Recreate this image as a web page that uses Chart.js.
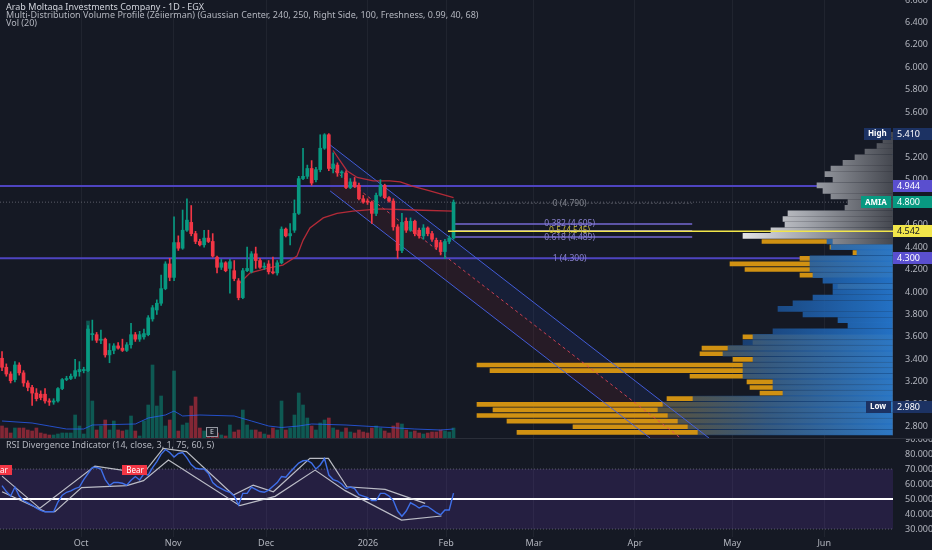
<!DOCTYPE html>
<html>
<head>
<meta charset="utf-8">
<title>AMIA 1D EGX</title>
<script src="https://cdn.jsdelivr.net/npm/chart.js@4.4.1/dist/chart.umd.min.js"></script>
<style>
  html, body { margin: 0; padding: 0; background: #151924; }
  #wrap { position: relative; width: 932px; height: 550px; overflow: hidden; }
  canvas { display: block; }
</style>
</head>
<body>
<div id="wrap">
  <canvas id="priceChart" width="932" height="438"></canvas>
  <canvas id="rsiChart" width="932" height="112"></canvas>
</div>
<script>
// AMIA daily chart: candles + volume + volume profile + RSI

// time axis (bar index) and month labels
const monthLabels = ['Oct', 'Nov', 'Dec', '2026', 'Feb', 'Mar', 'Apr', 'May', 'Jun'];
const monthIndex = [18.4, 39.8, 61.4, 85.1, 103.3, 123.7, 147.2, 169.8, 191.2];
const xMin = -0.47;
const xMax = 207.2;

// price axis
const priceTicks = [2.8, 3.0, 3.2, 3.4, 3.6, 3.8, 4.0, 4.2, 4.4, 4.6, 4.8, 5.0, 5.2, 5.4, 5.6, 5.8, 6.0, 6.2, 6.4, 6.6];
const priceMin = 2.70;
const priceMax = 6.60;

// OHLC
const opens = [3.41, 3.33, 3.27, 3.22, 3.35, 3.28, 3.19, 3.15, 3.10, 3.09,
  3.09, 3.03, 3.02, 3.03, 3.14, 3.22, 3.23, 3.25, 3.29, 3.30,
  3.30, 3.62, 3.62, 3.57, 3.58, 3.44, 3.48, 3.52, 3.50, 3.48,
  3.53, 3.62, 3.58, 3.60, 3.62, 3.76, 3.84, 3.90, 4.03, 4.25,
  4.13, 4.44, 4.39, 4.55, 4.62, 4.52, 4.45, 4.42, 4.48, 4.45,
  4.31, 4.22, 4.26, 4.21, 4.19, 4.10, 3.95, 4.19, 4.18, 4.34,
  4.28, 4.22, 4.25, 4.18, 4.17, 4.26, 4.56, 4.50, 4.55, 4.70,
  5.01, 5.03, 5.10, 5.00, 5.09, 5.28, 5.40, 5.10, 5.13, 5.06,
  5.06, 4.93, 4.98, 4.95, 4.83, 4.81, 4.80, 4.70, 4.86, 4.95,
  4.84, 4.81, 4.58, 4.37, 4.63, 4.55, 4.63, 4.55, 4.50, 4.57,
  4.52, 4.46, 4.44, 4.36, 4.45, 4.48];
const highs = [3.47, 3.36, 3.29, 3.38, 3.37, 3.30, 3.21, 3.17, 3.14, 3.12,
  3.14, 3.05, 3.05, 3.15, 3.23, 3.25, 3.27, 3.40, 3.38, 3.33,
  3.70, 3.75, 3.64, 3.66, 3.59, 3.54, 3.54, 3.55, 3.58, 3.55,
  3.72, 3.64, 3.65, 3.67, 3.79, 3.88, 3.93, 4.15, 4.27, 4.30,
  4.67, 4.50, 4.73, 4.83, 4.77, 4.54, 4.47, 4.55, 4.55, 4.52,
  4.32, 4.29, 4.27, 4.29, 4.28, 4.12, 4.21, 4.40, 4.36, 4.40,
  4.30, 4.26, 4.28, 4.31, 4.28, 4.58, 4.57, 4.61, 4.82, 5.03,
  5.28, 5.13, 5.17, 5.11, 5.40, 5.41, 5.41, 5.24, 5.15, 5.08,
  5.08, 5.01, 5.02, 4.97, 4.86, 4.83, 4.81, 4.88, 5.00, 4.96,
  4.85, 4.83, 4.60, 4.70, 4.66, 4.66, 4.64, 4.57, 4.60, 4.58,
  4.54, 4.48, 4.46, 4.47, 4.50, 4.82];
const lows = [3.30, 3.25, 3.19, 3.20, 3.26, 3.16, 3.12, 2.99, 3.03, 3.04,
  3.01, 2.99, 3.00, 3.02, 3.13, 3.21, 3.22, 3.23, 3.25, 3.28,
  3.29, 3.57, 3.55, 3.54, 3.42, 3.37, 3.45, 3.49, 3.47, 3.47,
  3.50, 3.56, 3.56, 3.58, 3.61, 3.74, 3.80, 3.88, 4.02, 4.10,
  4.10, 4.37, 4.38, 4.54, 4.50, 4.43, 4.41, 4.40, 4.44, 4.31,
  4.17, 4.20, 4.18, 3.99, 4.10, 3.93, 3.94, 4.18, 4.17, 4.21,
  4.21, 4.20, 4.16, 4.16, 4.15, 4.25, 4.49, 4.42, 4.53, 4.69,
  5.00, 5.01, 4.95, 4.98, 5.07, 5.27, 5.08, 5.06, 5.03, 5.02,
  4.92, 4.92, 4.93, 4.82, 4.79, 4.78, 4.61, 4.68, 4.85, 4.83,
  4.80, 4.55, 4.30, 4.35, 4.53, 4.54, 4.50, 4.48, 4.47, 4.50,
  4.45, 4.38, 4.33, 4.30, 4.43, 4.47];
const closes = [3.33, 3.27, 3.21, 3.35, 3.28, 3.19, 3.15, 3.10, 3.05, 3.06,
  3.03, 3.02, 3.03, 3.14, 3.22, 3.23, 3.25, 3.30, 3.31, 3.31,
  3.67, 3.63, 3.57, 3.58, 3.44, 3.48, 3.52, 3.50, 3.48, 3.53,
  3.62, 3.58, 3.62, 3.63, 3.77, 3.86, 3.90, 4.03, 4.25, 4.13,
  4.44, 4.39, 4.55, 4.64, 4.52, 4.45, 4.42, 4.48, 4.45, 4.32,
  4.22, 4.26, 4.19, 4.27, 4.12, 3.95, 4.19, 4.21, 4.34, 4.28,
  4.22, 4.23, 4.18, 4.17, 4.26, 4.56, 4.50, 4.52, 4.70, 5.01,
  5.03, 5.10, 4.97, 5.09, 5.28, 5.40, 5.10, 5.14, 5.06, 5.06,
  4.93, 4.98, 4.94, 4.83, 4.80, 4.80, 4.70, 4.86, 4.95, 4.84,
  4.81, 4.58, 4.37, 4.62, 4.55, 4.63, 4.52, 4.50, 4.57, 4.52,
  4.47, 4.40, 4.36, 4.45, 4.48, 4.80];

// volume (thousands) and Vol(20) average
const volumes = [120, 100, 50, 100, 100, 100, 80, 70, 100, 50,
  40, 30, 30, 40, 50, 50, 50, 230, 120, 40,
  1170, 370, 80, 120, 180, 80, 170, 80, 70, 80,
  220, 70, 20, 170, 330, 730, 320, 420, 120, 180,
  670, 70, 130, 150, 320, 410, 100, 70, 80, 50,
  50, 30, 20, 130, 60, 80, 280, 130, 80, 80,
  60, 40, 30, 100, 80, 370, 80, 100, 230, 450,
  330, 200, 120, 80, 150, 180, 200, 100, 80, 60,
  100, 60, 50, 80, 60, 50, 100, 120, 100, 70,
  50, 120, 150, 140, 80, 60, 70, 50, 40, 50,
  60, 60, 80, 70, 60, 100];
const volAvg = [[0, 170], [7, 150], [11, 120], [15, 90], [19, 90], [21, 130], [31, 140], [34, 200],
  [38, 230], [40, 270], [42, 220], [46, 230], [54, 220], [58, 170], [62, 120], [65, 105],
  [69, 120], [72, 140], [80, 130], [88, 110], [96, 90], [102, 80], [105, 90]];
const volScaleMax = 4380;

// red averages on price
const avgSlow = [[55.3, 4.08], [57.7, 4.17], [61.6, 4.21], [65.3, 4.24], [68.6, 4.32], [70, 4.46],
  [71.6, 4.57], [74.7, 4.66], [77.9, 4.70], [81.6, 4.72], [87.9, 4.74], [95.6, 4.73], [104.9, 4.72]];
const avgFast = [[77, 5.26], [78.6, 5.17], [80.2, 5.08], [82.6, 5.02], [86.3, 4.99], [90.2, 4.99],
  [92.6, 4.98], [95.6, 4.94], [99.5, 4.90], [105, 4.84]];

// descending channel
const channelUpper = [[76.3, 5.31], [164.4, 2.70]];
const channelMid = [[76.3, 5.11], [157.8, 2.70]];
const channelLower = [[76.3, 4.90], [150.7, 2.70]];

// levels
const hLevels = [4.944, 4.300];
const lastPrice = 4.800;
const pocPrice = 4.542;
const pocStart = 103.7;
const fibRatios = ['0', '0.382', '0.5', '0.618', '1'];
const fibPrices = [4.790, 4.605, 4.545, 4.489, 4.300];
const fibStart = 105.3;
const fibEnd = 160.5;
const fibLabelAt = 132;

// right axis tags
const tagValues = [5.410, 4.944, 4.800, 4.542, 4.300, 2.980];
const tagNames = ['High', '', 'AMIA', '', '', 'Low'];

// volume profile (bins top -> bottom)
const profilePrices = [5.40, 5.35, 5.30, 5.25, 5.20, 5.15, 5.10, 5.05, 5.00, 4.95,
  4.90, 4.85, 4.80, 4.75, 4.70, 4.65, 4.60, 4.55, 4.50, 4.45,
  4.40, 4.35, 4.30, 4.25, 4.20, 4.15, 4.10, 4.05, 4.00, 3.95,
  3.90, 3.85, 3.80, 3.75, 3.70, 3.65, 3.60, 3.55, 3.50, 3.45,
  3.40, 3.35, 3.30, 3.25, 3.20, 3.15, 3.10, 3.05, 3.00, 2.95,
  2.90, 2.85, 2.80, 2.75];
const profileUpper = [6, 10, 16, 28, 38, 50, 62, 68, 60, 76,
  70, 62, 45, 48, 105, 110, 108, 122, 150, 60,
  0, 0, 0, 0, 0, 0, 0, 0, 0, 0,
  0, 0, 0, 0, 0, 0, 0, 0, 0, 0,
  0, 0, 0, 0, 0, 0, 0, 0, 0, 0,
  0, 0, 0, 0];
const profileBase = [0, 0, 0, 0, 0, 0, 0, 0, 0, 0,
  0, 0, 0, 0, 0, 0, 0, 0, 0, 66,
  62, 36, 83, 83, 83, 80, 70, 60, 60, 80,
  100, 115, 90, 55, 45, 120, 140, 150, 165, 170,
  140, 150, 150, 150, 120, 120, 110, 200, 230, 235,
  225, 215, 205, 195];
const profileSpikes = [0, 0, 0, 0, 0, 0, 0, 0, 0, 0,
  0, 0, 0, 0, 0, 0, 0, 0, 0, 131,
  63, 40, 93, 163, 148, 93, 0, 55, 0, 0,
  0, 0, 0, 0, 0, 0, 150, 140, 191, 193,
  160, 416, 403, 203, 146, 143, 133, 226, 416, 400,
  416, 386, 320, 376];
const profileScaleMax = 893;

// RSI pane
const rsiTicks = [30, 40, 50, 60, 70, 80, 90];
const rsiMin = 24.7;
const rsiMax = 90.7;
const rsiValues = [59, 55, 52, 58, 52, 49, 47.5, 46, 44, 42.5,
  41.5, 41.5, 41.5, 48, 52.5, 54.5, 55.5, 57, 58, 63,
  67, 71, 71, 70, 63, 59, 61, 61, 60.5, 59.3,
  62.5, 65, 62.7, 67, 66, 71, 75, 80, 83, 81,
  78, 80.4, 81, 77.5, 73, 70.5, 70, 70, 67, 61,
  58.5, 57, 55.5, 54.5, 52, 46, 53.8, 53.8, 58, 56.5,
  55, 54.5, 56, 58.5, 61, 65, 64.5, 68, 71, 74,
  75.5, 75.8, 74, 70, 72.7, 77, 66, 63, 62, 60,
  57, 58, 57, 53, 52, 51, 49, 49, 53.8, 53.8,
  52, 49, 42, 38.5, 42, 47.5, 46, 44, 45.5, 45,
  43, 41, 39.5, 42.7, 42.7, 54];
const rsiPivotsA = [[0, 65.3], [8.8, 43.8], [21.6, 72], [32.9, 67.1], [37.5, 83.8], [42.9, 81.6], [53.8, 52.7],
  [58.4, 59.3], [63.1, 54.9], [71.6, 77.1], [75.9, 77.1], [80.2, 58.2], [89.1, 56.4], [98.4, 47.1]];
const rsiPivotsB = [[0, 54.9], [10, 41.6], [12.3, 41.6], [18.5, 57.6], [29, 59], [32.9, 62.3], [38.7, 76],
  [55.3, 45.6], [63.5, 51.8], [72.8, 69.3], [79.8, 55.6], [92.9, 36], [102.2, 38.7]];
const bearMarks = [[-0.8, 69.3], [30.8, 69.3]];
const earningsMark = 48.8;

// ---- helpers
const UP = '#089981';
const DOWN = '#f23645';
const GRID = 'rgba(255,255,255,0.05)';
const TEXT = '#b2b5be';
const FONT = '"Noto Sans", "DejaVu Sans", sans-serif';

Chart.defaults.font.family = FONT;
Chart.defaults.color = TEXT;

const isUp = i => closes[i] >= opens[i];
const pts = arr => arr.map(p => ({ x: p[0], y: p[1] }));
const flat = (a, b, v) => [{ x: a, y: v }, { x: b, y: v }];

function lineSet(data, color, width, order, dash) {
  return {
    type: 'line', data: data, borderColor: color, borderWidth: width,
    borderDash: dash || [], pointRadius: 0, tension: 0, fill: false, order: order
  };
}

// cached horizontal gradients for the profile
const gradCache = {};
function profileGradient(chart, key, stops, span) {
  const area = chart.chartArea;
  if (!area) return stops[stops.length - 1][1];
  const id = key + area.right;
  if (!gradCache[id]) {
    const g = chart.ctx.createLinearGradient(area.right - span, 0, area.right, 0);
    stops.forEach(s => g.addColorStop(s[0], s[1]));
    gradCache[id] = g;
  }
  return gradCache[id];
}

function profileSet(values, color, order, thickness) {
  return {
    type: 'bar', indexAxis: 'y', xAxisID: 'xp', yAxisID: 'y',
    data: profilePrices.map((p, k) => ({ x: values[k], y: p })),
    backgroundColor: color, barThickness: thickness, grouped: false, order: order
  };
}

function fillBand(ctx, x, y, a, b, color) {
  ctx.beginPath();
  ctx.moveTo(x.getPixelForValue(a[0][0]), y.getPixelForValue(a[0][1]));
  ctx.lineTo(x.getPixelForValue(a[1][0]), y.getPixelForValue(a[1][1]));
  ctx.lineTo(x.getPixelForValue(b[1][0]), y.getPixelForValue(b[1][1]));
  ctx.lineTo(x.getPixelForValue(b[0][0]), y.getPixelForValue(b[0][1]));
  ctx.closePath();
  ctx.fillStyle = color;
  ctx.fill();
}

function box(ctx, x, yMid, w, h, bg) {
  ctx.fillStyle = bg;
  ctx.fillRect(x, Math.round(yMid - h / 2), w, h);
}

const tagStyles = {
  High: ['#1c3263', '#ffffff'],
  Low: ['#1c3263', '#ffffff'],
  AMIA: ['#089981', '#ffffff']
};

// ---- price pane overlays
const priceOverlay = {
  id: 'priceOverlay',
  beforeDatasetsDraw(chart) {
    const { ctx, chartArea: a, scales: { x, y } } = chart;
    ctx.save();
    ctx.beginPath();
    ctx.rect(a.left, a.top, a.width, a.height);
    ctx.clip();
    fillBand(ctx, x, y, channelUpper, channelMid, 'rgba(41,98,255,0.09)');
    fillBand(ctx, x, y, channelMid, channelLower, 'rgba(242,54,69,0.08)');
    ctx.restore();
  },
  afterDraw(chart) {
    const { ctx, chartArea: a, scales: { x, y } } = chart;
    ctx.save();

    // headers
    ctx.textBaseline = 'middle';
    ctx.textAlign = 'left';
    ctx.fillStyle = '#d1d4dc';
    ctx.font = '9px ' + FONT;
    ctx.fillText('Arab Moltaqa Investments Company - 1D - EGX', 6, 7);
    ctx.fillStyle = TEXT;
    ctx.fillText('Multi-Distribution Volume Profile (Zeiierman) (Gaussian Center, 240, 250, Right Side, 100, Freshness, 0.99, 40, 68)', 6, 15);
    ctx.fillText('Vol (20)', 6, 23);

    // fib labels
    ctx.font = '8.5px ' + FONT;
    ctx.textAlign = 'center';
    fibRatios.forEach((r, k) => {
      ctx.fillStyle = k === 0 ? '#7d808a' : (k === 2 ? '#c9bd3c' : '#8a82d0');
      ctx.fillText(r + ' (' + fibPrices[k].toFixed(3) + ')', x.getPixelForValue(fibLabelAt), y.getPixelForValue(fibPrices[k]));
    });

    // earnings marker
    const ex = Math.round(x.getPixelForValue(earningsMark));
    ctx.fillStyle = '#1e222d';
    ctx.fillRect(ex - 6, a.bottom - 11, 12, 10);
    ctx.strokeStyle = '#9598a1';
    ctx.lineWidth = 1;
    ctx.strokeRect(ex - 5.5, a.bottom - 10.5, 11, 9);
    ctx.fillStyle = '#d1d4dc';
    ctx.font = '7px ' + FONT;
    ctx.fillText('E', ex, a.bottom - 6);

    // right axis tags
    ctx.font = '9px ' + FONT;
    tagValues.forEach((v, k) => {
      const yp = y.getPixelForValue(v);
      const name = tagNames[k];
      let bg = '#5a4fcf', fg = '#ffffff';
      if (name) { bg = tagStyles[name][0]; fg = tagStyles[name][1]; }
      if (Math.abs(v - pocPrice) < 1e-6) { bg = '#f2e64a'; fg = '#131722'; }
      box(ctx, a.right, yp, 39, 12, bg);
      ctx.fillStyle = fg;
      ctx.textAlign = 'left';
      ctx.fillText(v.toFixed(3), a.right + 4, yp + 0.5);
      if (name) {
        ctx.font = 'bold 8px ' + FONT;
        const w = Math.ceil(ctx.measureText(name).width) + 8;
        box(ctx, a.right - w - 2, yp, w, 12, bg);
        ctx.fillStyle = fg;
        ctx.fillText(name, a.right - w + 2, yp + 0.5);
        ctx.font = '9px ' + FONT;
      }
    });
    ctx.restore();
  }
};

// ---- price chart
const priceChart = new Chart(document.getElementById('priceChart'), {
  type: 'bar',
  data: {
    datasets: [
      lineSet(flat(pocStart, xMax, pocPrice), '#f2e64a', 1.5, 0),
      {
        type: 'bar', data: opens.map((o, i) => ({ x: i, y: [o, closes[i]] })),
        backgroundColor: opens.map((o, i) => isUp(i) ? UP : DOWN),
        barThickness: 3, minBarLength: 1, grouped: false, order: 1
      },
      {
        type: 'bar', data: lows.map((l, i) => ({ x: i, y: [l, highs[i]] })),
        backgroundColor: opens.map((o, i) => isUp(i) ? UP : DOWN),
        barThickness: 1, grouped: false, order: 2
      },
      lineSet(pts(avgSlow), 'rgba(196,44,58,0.9)', 1.3, 3),
      lineSet(pts(avgFast), 'rgba(196,44,58,0.9)', 1.3, 3),
      lineSet(pts(channelUpper), 'rgba(70,96,225,0.95)', 1, 4),
      lineSet(pts(channelLower), 'rgba(70,96,225,0.95)', 1, 4),
      lineSet(pts(channelMid), 'rgba(230,70,90,0.85)', 1, 4, [3, 3]),
      profileSet(profileUpper, ctx => profileGradient(ctx.chart, 'gray',
        [[0, '#ececee'], [0.45, '#a4a7ae'], [1, '#44474f']], 160), 5, 5),
      profileSet(profileBase, ctx => profileGradient(ctx.chart, 'blue',
        [[0, 'rgba(22,44,80,0.6)'], [0.5, 'rgba(28,80,145,0.85)'], [1, 'rgba(36,118,205,0.95)']], 250), 6, 5),
      profileSet(profileSpikes, 'rgba(218,152,18,0.95)', 7, 4),
      lineSet(flat(xMin, xMax, hLevels[0]), '#4e44c0', 2, 8),
      lineSet(flat(xMin, xMax, hLevels[1]), '#4e44c0', 2, 8),
      lineSet(flat(xMin, xMax, lastPrice), 'rgba(120,123,134,0.7)', 1, 8, [1, 2]),
      lineSet(flat(fibStart, fibEnd, fibPrices[0]), 'rgba(120,123,134,0.6)', 1, 8, [2, 2]),
      lineSet(flat(fibStart, fibEnd, fibPrices[1]), '#7468d2', 1.5, 8),
      lineSet(flat(fibStart, fibEnd, fibPrices[2]), '#7468d2', 1.5, 8),
      lineSet(flat(fibStart, fibEnd, fibPrices[3]), '#7468d2', 1.5, 8),
      Object.assign(lineSet(pts(volAvg), 'rgba(41,98,255,0.75)', 1, 9), { yAxisID: 'yv' }),
      {
        type: 'bar', yAxisID: 'yv', data: volumes.map((v, i) => ({ x: i, y: v })),
        backgroundColor: opens.map((o, i) => isUp(i) ? 'rgba(8,153,129,0.5)' : 'rgba(242,54,69,0.5)'),
        barThickness: 3, grouped: false, order: 10
      }
    ]
  },
  options: {
    responsive: false,
    animation: false,
    events: [],
    layout: { padding: 0 },
    plugins: { legend: { display: false }, tooltip: { enabled: false } },
    scales: {
      x: {
        type: 'linear', min: xMin, max: xMax, offset: false,
        afterBuildTicks: s => { s.ticks = monthIndex.map(v => ({ value: v })); },
        afterFit: s => { s.height = 0; s.paddingLeft = 0; s.paddingRight = 0; },
        ticks: { display: false },
        grid: { color: GRID, drawTicks: false, offset: false },
        border: { display: false }
      },
      xp: {
        type: 'linear', axis: 'x', display: false, reverse: true,
        min: 0, max: profileScaleMax, offset: false, grid: { offset: false }
      },
      y: {
        type: 'linear', position: 'right', min: priceMin, max: priceMax, offset: false,
        afterBuildTicks: s => { s.ticks = priceTicks.map(v => ({ value: v })); },
        afterFit: s => { s.width = 39; s.paddingTop = 0; s.paddingBottom = 0; },
        ticks: { padding: 4, color: TEXT, font: { size: 9 }, callback: v => v.toFixed(3) },
        grid: { display: false, offset: false },
        border: { display: false }
      },
      yv: { type: 'linear', display: false, min: 0, max: volScaleMax }
    }
  },
  plugins: [priceOverlay]
});

// ---- RSI pane overlays
const rsiOverlay = {
  id: 'rsiOverlay',
  afterDraw(chart) {
    const { ctx, scales: { x, y } } = chart;
    ctx.save();
    ctx.strokeStyle = '#2a2e39';
    ctx.lineWidth = 1;
    ctx.beginPath();
    ctx.moveTo(0, 0.5);
    ctx.lineTo(chart.width, 0.5);
    ctx.stroke();

    ctx.textBaseline = 'middle';
    ctx.textAlign = 'left';
    ctx.fillStyle = TEXT;
    ctx.font = '9px ' + FONT;
    ctx.fillText('RSI Divergence Indicator (14, close, 3, 1, 75, 60, 5)', 6, 7);

    ctx.font = '8px ' + FONT;
    ctx.textAlign = 'center';
    bearMarks.forEach(m => {
      const px = x.getPixelForValue(m[0]);
      const py = y.getPixelForValue(m[1]);
      ctx.fillStyle = '#f23645';
      ctx.fillRect(Math.round(px - 12), Math.round(py - 5), 25, 10);
      ctx.fillStyle = '#ffffff';
      ctx.fillText('Bear', px + 0.5, py + 0.5);
    });
    ctx.restore();
  }
};

const rsiChart = new Chart(document.getElementById('rsiChart'), {
  type: 'line',
  data: {
    datasets: [
      lineSet(rsiValues.map((v, i) => ({ x: i, y: v })), '#3f6fe8', 1.4, 0),
      lineSet(pts(rsiPivotsA), 'rgba(214,216,222,0.85)', 1.2, 1),
      lineSet(pts(rsiPivotsB), 'rgba(214,216,222,0.85)', 1.2, 1),
      lineSet(flat(xMin, xMax, 50), '#ffffff', 2, 2),
      lineSet(flat(xMin, xMax, 70), 'rgba(120,123,134,0.7)', 1, 3, [1, 2]),
      Object.assign(lineSet(flat(xMin, xMax, 30), 'rgba(120,123,134,0.7)', 1, 4, [1, 2]),
        { fill: '-1', backgroundColor: 'rgba(110,60,200,0.18)' })
    ]
  },
  options: {
    responsive: false,
    animation: false,
    events: [],
    layout: { padding: 0 },
    plugins: { legend: { display: false }, tooltip: { enabled: false } },
    scales: {
      x: {
        type: 'linear', min: xMin, max: xMax, offset: false,
        afterBuildTicks: s => { s.ticks = monthIndex.map(v => ({ value: v })); },
        afterFit: s => { s.height = 13; s.paddingLeft = 0; s.paddingRight = 0; },
        ticks: {
          autoSkip: false, maxRotation: 0, padding: 1, color: TEXT, font: { size: 9 },
          callback: v => monthLabels[monthIndex.indexOf(v)]
        },
        grid: { color: GRID, drawTicks: false },
        border: { display: false }
      },
      y: {
        type: 'linear', position: 'right', min: rsiMin, max: rsiMax,
        afterBuildTicks: s => { s.ticks = rsiTicks.map(v => ({ value: v })); },
        afterFit: s => { s.width = 39; s.paddingTop = 0; s.paddingBottom = 0; },
        ticks: { padding: 4, color: TEXT, font: { size: 9 }, callback: v => v.toFixed(3) },
        grid: { display: false },
        border: { display: false }
      }
    }
  },
  plugins: [rsiOverlay]
});
</script>
</body>
</html>
